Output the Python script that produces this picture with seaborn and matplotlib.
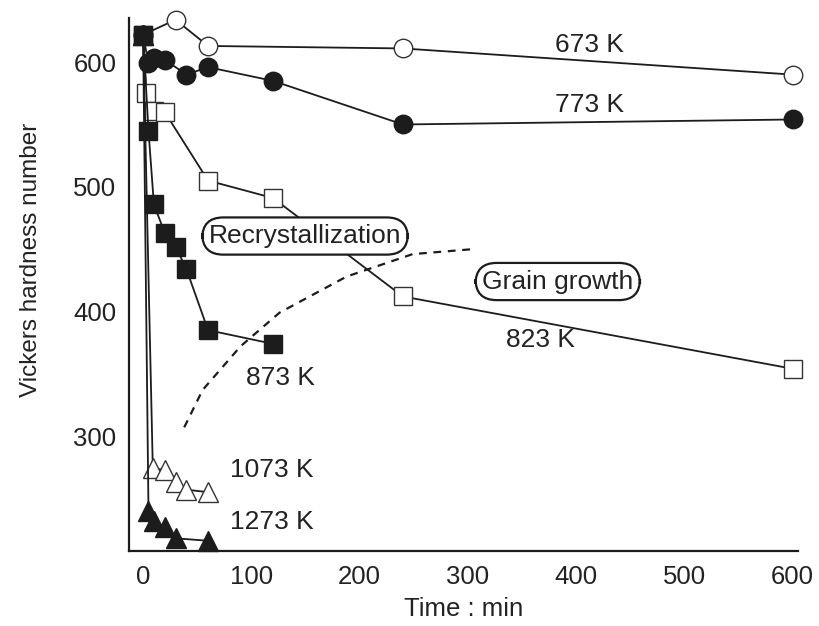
import matplotlib
matplotlib.use("Agg")
import matplotlib.pyplot as plt
import seaborn as sns
import pandas as pd

# ---- data ----
t_673 = [0, 30, 60, 240, 600]
hv_673 = [622, 634, 613, 611, 590]

t_773 = [0, 5, 10, 20, 40, 60, 120, 240, 600]
hv_773 = [622, 599, 603, 602, 590, 596, 585, 550, 554]

t_823 = [0, 3, 10, 20, 60, 120, 240, 600]
hv_823 = [622, 575, 561, 560, 505, 491, 412, 354]

t_873 = [0, 5, 10, 20, 30, 40, 60, 120]
hv_873 = [622, 545, 486, 463, 452, 434, 385, 374]

t_1073 = [0, 9, 20, 30, 40, 60]
hv_1073 = [622, 274, 273, 263, 257, 255]

t_1273 = [0, 5, 10, 20, 30, 60]
hv_1273 = [622, 240, 232, 227, 218, 216]

# dashed boundary between recrystallization and grain growth
t_bound = [38, 55, 90, 126, 188, 249, 305]
hv_bound = [307, 337, 372, 399, 428, 446, 450]

x_ticks = [0, 100, 200, 300, 400, 500, 600]
y_ticks = [300, 400, 500, 600]

sns.set_theme(style="white")
plt.rcParams["font.family"] = ["Liberation Sans", "DejaVu Sans"]

INK = "#1c1c1c"
fig = plt.figure(figsize=(8.19, 6.26), dpi=100)
ax = fig.add_axes([0.1575, 0.1198, 0.974 - 0.1575, 0.971 - 0.1198])

def series(t, hv, marker, filled, ms=13.3, mew=1.0, z=3):
    df = pd.DataFrame({"t": t, "hv": hv})
    sns.lineplot(data=df, x="t", y="hv", ax=ax, estimator=None, sort=False,
                 color=INK, lw=1.3, marker=marker, markersize=ms,
                 markerfacecolor=INK if filled else "white",
                 markeredgecolor=INK if filled else "#333333",
                 markeredgewidth=mew, clip_on=False, zorder=z)

series(t_673, hv_673, "o", False)
series(t_773, hv_773, "o", True)
series(t_823, hv_823, "s", False)
series(t_1073, hv_1073, "^", False, ms=14.5)
series(t_1273, hv_1273, "^", True, ms=14.5)
series(t_873, hv_873, "s", True, z=4)

dfb = pd.DataFrame({"t": t_bound, "hv": hv_bound})
sns.lineplot(data=dfb, x="t", y="hv", ax=ax, estimator=None, sort=False,
             color=INK, lw=1.6, linestyle=(0, (3.5, 3.0)), zorder=2)

ax.set_xlim(-13, 604.6)
ax.set_ylim(207.8, 635.3)
ax.set_xticks(x_ticks)
ax.set_yticks(y_ticks)
ax.tick_params(axis="x", direction="in", length=15, width=1.3, color=INK,
               labelsize=18.5, pad=10, labelcolor="#222222")
ax.tick_params(axis="y", direction="in", length=11.5, width=1.3, color=INK,
               labelsize=18.5, pad=9, labelcolor="#222222")
for s in ["top", "right"]:
    ax.spines[s].set_visible(False)
for s in ["left", "bottom"]:
    ax.spines[s].set_color(INK)
    ax.spines[s].set_linewidth(1.6)

ax.set_xlabel("Time : min", fontsize=18.5, color="#222222", labelpad=6)
ax.set_ylabel("Vickers hardness number", fontsize=17.5, color="#222222", labelpad=26)
ax.yaxis.set_label_coords(-0.13, 0.546)

lab = dict(fontsize=19, color="#222222", ha="center", va="center", zorder=5)
ax.text(412.6, 613.6, "673 K", **lab)
ax.text(412.6, 565.5, "773 K", **lab)
ax.text(366.6, 377, "823 K", **lab)
ax.text(126.5, 346.6, "873 K", **lab)
ax.text(119, 273, "1073 K", **lab)
ax.text(119, 231, "1273 K", bbox=dict(fc="white", ec="none", pad=2), **lab)

box = dict(boxstyle="round,pad=0.25,rounding_size=0.8", fc="white", ec=INK, lw=1.6)
ax.text(149.6, 460.5, "Recrystallization", bbox=box, **lab)
ax.text(383, 424, "Grain growth", bbox=box, **lab)

fig.savefig("out.png", dpi=100)
